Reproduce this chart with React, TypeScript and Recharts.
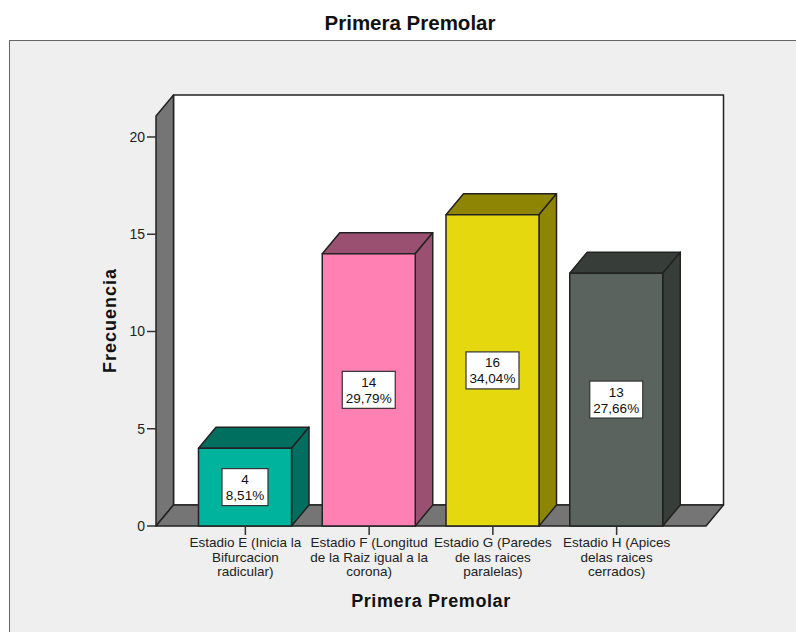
import { BarChart, Bar, XAxis, YAxis, LabelList, Label, usePlotArea } from 'recharts';

const categories = [
  'Estadio E (Inicia la Bifurcacion radicular)',
  'Estadio F (Longitud de la Raiz igual a la corona)',
  'Estadio G (Paredes de las raices paralelas)',
  'Estadio H (Apices delas raices cerrados)',
];
const tickLines = [
  ['Estadio E (Inicia la', 'Bifurcacion', 'radicular)'],
  ['Estadio F (Longitud', 'de la Raiz igual a la', 'corona)'],
  ['Estadio G (Paredes', 'de las raices', 'paralelas)'],
  ['Estadio H (Apices', 'delas raices', 'cerrados)'],
];
const counts = [4, 14, 16, 13];
const percents = ['8,51%', '29,79%', '34,04%', '27,66%'];
const frontColors = ['#00b39d', '#ff80b2', '#e6d80f', '#5a635d'];
const sideColors = ['#006f60', '#9a5070', '#8f8505', '#373d39'];
const yTicks = [0, 5, 10, 15, 20];

const data = categories.map((name, i) => ({ name, value: counts[i] }));

const FONT = '"Liberation Sans", Arial, sans-serif';
const DX = 17.5;
const DY = 21;
const LINE = '#222';

const Walls = () => {
  const plot = usePlotArea();
  if (!plot) return null;
  const left = plot.x;
  const right = plot.x + plot.width;
  const bottom = plot.y + plot.height;
  const top = plot.y - DY;
  return (
    <g stroke={LINE} strokeWidth={1.5} strokeLinejoin="round">
      <rect x={left + DX} y={top - DY} width={right - left} height={bottom - top} fill="#fff" />
      <path
        d={`M${left},${bottom}V${top}L${left + DX},${top - DY}V${bottom - DY}Z`}
        fill="#757575"
      />
      <path
        d={`M${left},${bottom}H${right}L${right + DX},${bottom - DY}H${left + DX}Z`}
        fill="#757575"
      />
    </g>
  );
};

const Bar3D = ({ x, y, width, height, index }: any) => (
  <g stroke={LINE} strokeWidth={1.5} strokeLinejoin="round">
    <path
      d={`M${x},${y}l${DX},${-DY}h${width}l${-DX},${DY}Z`}
      fill={sideColors[index]}
    />
    <path
      d={`M${x + width},${y}l${DX},${-DY}v${height}l${-DX},${DY}Z`}
      fill={sideColors[index]}
    />
    <rect x={x} y={y} width={width} height={height} fill={frontColors[index]} />
  </g>
);

const CountBox = ({ x, y, width, height, value, index }: any) => {
  const cx = x + width / 2;
  const cy = y + height / 2;
  const boxW = percents[index].length > 5 ? 53 : 46;
  return (
    <g fontFamily={FONT} fontSize={13.5} fill="#111" textAnchor="middle">
      <rect
        x={cx - boxW / 2}
        y={cy - 18.5}
        width={boxW}
        height={37}
        fill="#fff"
        stroke="#333"
        strokeWidth={1.2}
      />
      <text x={cx} y={cy - 3}>{value}</text>
      <text x={cx} y={cy + 13}>{percents[index]}</text>
    </g>
  );
};

const CategoryTick = ({ x, y, index }: any) => (
  <text x={x} y={y + 2} textAnchor="middle" fontFamily={FONT} fontSize={13.5} fill="#222">
    {tickLines[index].map((line, i) => (
      <tspan key={line} x={x} dy={i === 0 ? 8 : 14.5}>{line}</tspan>
    ))}
  </text>
);

export default function App() {
  return (
    <div style={{ position: 'absolute', left: 0, top: 0, width: 796, height: 632, background: '#fff', overflow: 'hidden' }}>
      <div
        style={{
          position: 'absolute',
          left: 0,
          right: 0,
          top: 11,
          textAlign: 'center',
          paddingLeft: 24,
          fontFamily: FONT,
          fontWeight: 700,
          fontSize: 20.5,
          lineHeight: '24px',
          color: '#111',
        }}
      >
        Primera Premolar
      </div>
      <div
        style={{
          position: 'absolute',
          left: 9,
          top: 40,
          right: -4,
          bottom: -4,
          boxSizing: 'border-box',
          background: '#efefef',
          border: '1.5px solid #666',
        }}
      />
      <div style={{ position: 'absolute', left: 0, top: 0 }}>
        <BarChart
          width={796}
          height={632}
          data={data}
          margin={{ top: 137, right: 90, bottom: 0, left: 0 }}
        >
          <Walls />
          <XAxis
            dataKey="name"
            height={106}
            padding={{ left: 27.5, right: 27.5 }}
            interval={0}
            tickSize={9}
            tickLine={{ stroke: '#333', strokeWidth: 1.5 }}
            axisLine={false}
            tick={<CategoryTick />}
          >
            <Label
              value="Primera Premolar"
              position="insideBottom"
              offset={25}
              style={{ fontFamily: FONT, fontWeight: 700, fontSize: 18, fill: '#111', letterSpacing: 0.6 }}
            />
          </XAxis>
          <YAxis
            width={156}
            domain={[0, 20]}
            ticks={yTicks}
            tickSize={9}
            tickLine={{ stroke: '#333', strokeWidth: 1.5 }}
            axisLine={false}
            tick={{ fontFamily: FONT, fontSize: 14, fill: '#222' }}
          >
            <Label
              value="Frecuencia"
              angle={-90}
              position="insideLeft"
              offset={110}
              dy={-11}
              style={{ fontFamily: FONT, fontWeight: 700, fontSize: 18, fill: '#111', textAnchor: 'middle', letterSpacing: 1 }}
            />
          </YAxis>
          <Bar dataKey="value" barSize={93} shape={<Bar3D />} isAnimationActive={false}>
            <LabelList dataKey="value" content={<CountBox />} />
          </Bar>
        </BarChart>
      </div>
    </div>
  );
}
